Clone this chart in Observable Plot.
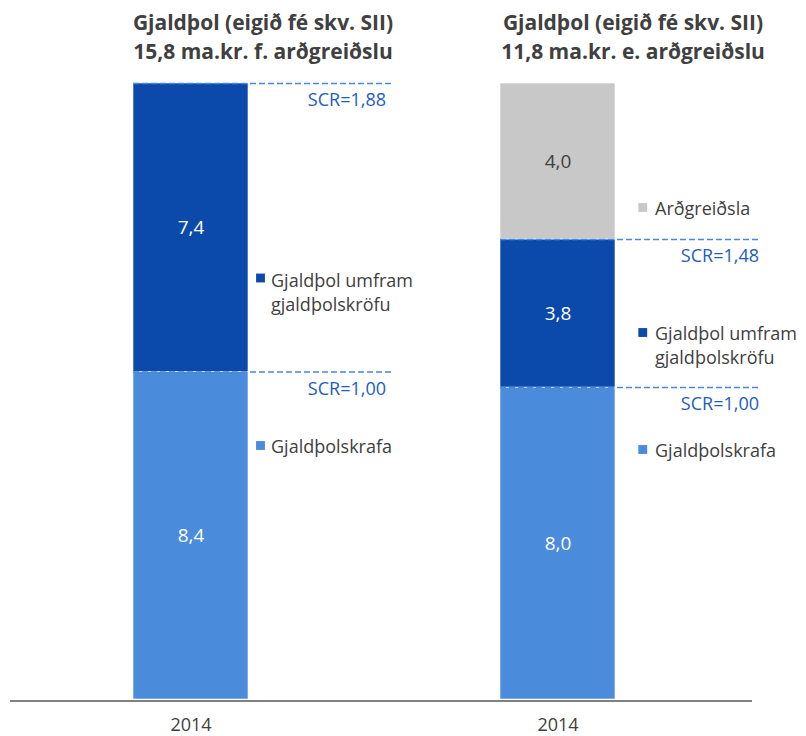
<!DOCTYPE html>
<html><head><meta charset="utf-8">
<script src="https://cdn.jsdelivr.net/npm/d3@7"></script>
<script src="https://cdn.jsdelivr.net/npm/@observablehq/plot@0.6"></script>
<style>body{margin:0;background:#fff;}</style>
</head><body><div id="chart"></div>
<script>
// ---- data ----
const panels = ["f", "e"];
const yearLabels = ["2014", "2014"];
const titles = [
  "Gjaldþol (eigið fé skv. SII)\n15,8 ma.kr. f. arðgreiðslu",
  "Gjaldþol (eigið fé skv. SII)\n11,8 ma.kr. e. arðgreiðslu"
];
const seriesNames = ["Gjaldþolskrafa", "Gjaldþol umfram\ngjaldþolskröfu", "Arðgreiðsla"];
const seriesColors = ["#4a8bdb", "#0b4aab", "#c8c8c8"];
const valuesF = [8.4, 7.4, 0];
const valuesE = [8.0, 3.8, 4.0];
const scrLabelsF = ["SCR=1,00", "SCR=1,88"];
const scrLabelsE = ["SCR=1,00", "SCR=1,48"];

// ---- derived tables ----
const valuesByPanel = [valuesF, valuesE];
const rows = [];
panels.forEach((p, pi) => {
  const cum = d3.cumsum(valuesByPanel[pi]);
  valuesByPanel[pi].forEach((v, si) => {
    if (v > 0) rows.push({panel: p, si, series: seriesNames[si], value: v,
      y0: cum[si] - v, y1: cum[si], label: v.toFixed(1).replace(".", ",")});
  });
});
const scrRows = [];
[scrLabelsF, scrLabelsE].forEach((labels, pi) => {
  const cum = d3.cumsum(valuesByPanel[pi]);
  labels.forEach((lab, k) => scrRows.push({panel: panels[pi], label: lab, value: cum[k]}));
});

// ---- layout (pixels) ----
const marginTop = 83;
const layout = {
  f: {titleDx: 72, scrDx: 195, sqDx: 69.5, textDx: 80,
      legendY: {0: 445, 1: 290.5, 2: null}, squareY: {0: 445, 1: 277.5, 2: null}},
  e: {titleDx: 75, scrDx: 201, sqDx: 84.75, textDx: 97,
      legendY: {0: 449, 1: 343.5, 2: 207}, squareY: {0: 449, 1: 332, 2: 207}}
};
const textColor = "#404040";

const marks = [];
marks.push(Plot.ruleY([0], {stroke: "#808080", strokeWidth: 2, dy: 1.5}));
marks.push(Plot.rectY(rows, {x: "panel", y1: "y0", y2: "y1", fill: "series", stroke: "white", strokeWidth: 0.6}));
marks.push(Plot.text(rows, {filter: d => d.si < 2, x: "panel", y: d => (d.y0 + d.y1) / 2, text: "label", fill: "white", fontSize: 19}));
marks.push(Plot.text(rows, {filter: d => d.si === 2, x: "panel", y: d => (d.y0 + d.y1) / 2, text: "label", fill: textColor, fontSize: 19}));
marks.push(Plot.tickY(scrRows, {x: "panel", y: "value", stroke: "#4a88d9", strokeDasharray: "6,3", strokeWidth: 1.5, insetRight: -143}));

panels.forEach((p, pi) => {
  const L = layout[p];
  marks.push(Plot.text(scrRows, {filter: d => d.panel === p, x: "panel", y: "value", dy: 17, dx: L.scrDx,
    text: "label", textAnchor: "end", fill: "#1f5cbf", fontSize: 18}));
  marks.push(Plot.text([titles[pi]], {x: () => p, text: d => d, frameAnchor: "top", dy: 34.7 - marginTop, dx: L.titleDx,
    fontSize: 21, fontWeight: "bold", fill: textColor, lineAnchor: "middle", lineHeight: 1.36}));
  rows.filter(r => r.panel === p).forEach(r => {
    marks.push(Plot.dot([r], {x: "panel", frameAnchor: "top", dy: L.squareY[r.si] - marginTop, dx: L.sqDx,
      symbol: "square", r: 5, fill: seriesColors[r.si], stroke: null}));
    marks.push(Plot.text([r], {x: "panel", text: "series", frameAnchor: "top", dy: L.legendY[r.si] - marginTop, dx: L.textDx,
      textAnchor: "start", lineAnchor: "middle", lineHeight: 1.333, fontSize: 18, fill: textColor}));
  });
});

marks.push(Plot.axisX({label: null, tickSize: 0, tickPadding: 19, fontSize: 18, fill: textColor,
  tickFormat: d => yearLabels[panels.indexOf(d)]}));

const chart = Plot.plot({
  width: 806,
  height: 736,
  marginTop: marginTop,
  marginBottom: 37,
  marginLeft: 10,
  marginRight: 54,
  style: {fontFamily: "'Open Sans', sans-serif", background: "white"},
  x: {domain: panels, range: [10, 738], paddingInner: 0.6855, paddingOuter: 0.334, axis: null, label: null},
  y: {domain: [0, 15.8], axis: null},
  color: {domain: seriesNames, range: seriesColors},
  marks
});
document.getElementById("chart").appendChild(chart);
</script>
</body></html>
